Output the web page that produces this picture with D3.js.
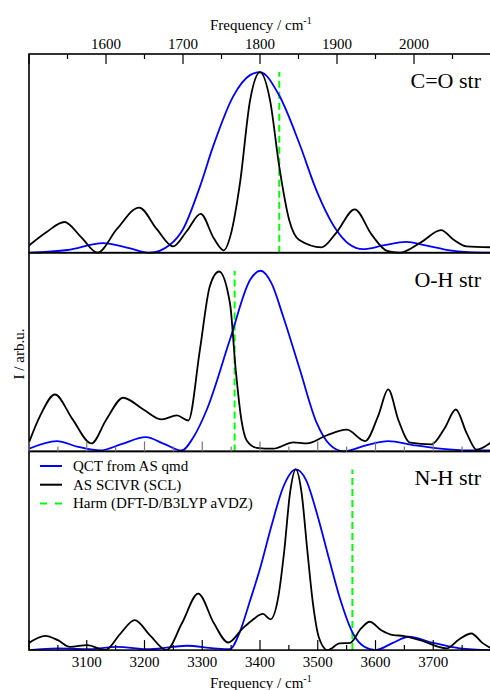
<!DOCTYPE html>
<html>
<head>
<meta charset="utf-8">
<script src="https://cdn.jsdelivr.net/npm/d3@7"></script>
<style>
  body { margin: 0; background: #fff; }
  svg { display: block; font-family: "Liberation Serif", "DejaVu Serif", serif; }
</style>
</head>
<body>
<div id="chart"></div>
<script>
// Spectra: [frequency / cm-1, intensity]
const coQCT = [[1500,0],[1550,0.015],[1596,0.053],[1630,0.025],[1657,0],[1683,0.044],[1700,0.13],
  [1722,0.366],[1739,0.587],[1765,0.864],[1787,0.983],[1800,1],[1825,0.87],[1851,0.606],[1873,0.348],
  [1899,0.127],[1915,0.05],[1934,0.02],[1960,0.04],[1990,0.06],[2015,0.04],[2042,0.016],[2070,0.003],[2100,0]];
const coSCIVR = [[1500,0.04],[1523,0.115],[1546,0.17],[1568,0.085],[1589,0],[1614,0.13],[1643,0.25],
  [1666,0.13],[1687,0.035],[1705,0.12],[1723,0.215],[1740,0.08],[1753,0.013],[1762,0.1],[1774,0.385],
  [1787,0.84],[1800,1],[1813,0.845],[1825,0.477],[1838,0.18],[1851,0.07],[1880,0.03],[1899,0.11],
  [1923,0.24],[1945,0.1],[1965,0.01],[1981,0],[2010,0.06],[2035,0.125],[2052,0.07],[2068,0.035],[2100,0.03]];

const ohQCT = [[3000,0.015],[3048,0.057],[3085,0.025],[3123,0.005],[3160,0.04],[3202,0.079],[3235,0.04],
  [3264,0.005],[3285,0.08],[3308,0.232],[3348,0.619],[3383,0.95],[3401,1],[3420,0.93],[3440,0.748],
  [3469,0.453],[3498,0.159],[3520,0.04],[3545,0],[3585,0.035],[3622,0.057],[3665,0.035],[3712,0.015],
  [3760,0.005],[3800,0.005]];
const ohSCIVR = [[3000,0.05],[3019,0.195],[3045,0.315],[3075,0.18],[3108,0.044],[3134,0.177],[3163,0.297],
  [3198,0.232],[3230,0.177],[3256,0.199],[3276,0.171],[3296,0.564],[3313,0.913],[3329,0.996],[3348,0.82],
  [3358,0.45],[3368,0.17],[3377,0.06],[3394,0.02],[3423,0.015],[3458,0.05],[3481,0.044],[3515,0.088],
  [3550,0.12],[3582,0.057],[3605,0.2],[3622,0.343],[3640,0.17],[3660,0.048],[3697,0.039],[3720,0.13],
  [3739,0.232],[3758,0.1],[3775,0.01],[3800,0.05]];

const nhQCT = [[3000,0],[3050,0.01],[3100,0.005],[3152,0.018],[3210,0.005],[3273,0.024],[3320,0.01],
  [3348,0.005],[3365,0.1],[3383,0.276],[3400,0.45],[3420,0.69],[3440,0.9],[3462,1],[3480,0.94],
  [3500,0.74],[3520,0.5],[3540,0.27],[3561,0.092],[3580,0.02],[3600,0],[3630,0.04],[3657,0.074],
  [3700,0.04],[3746,0.01],[3800,0]];
const nhSCIVR = [[3000,0.04],[3028,0.079],[3050,0.055],[3071,0.018],[3101,0.028],[3132,0],[3158,0.09],
  [3183,0.166],[3210,0.08],[3238,0],[3265,0.15],[3293,0.313],[3320,0.15],[3345,0.042],[3370,0.12],
  [3388,0.17],[3405,0.2],[3418,0.17],[3432,0.3],[3442,0.55],[3452,0.87],[3462,1],[3472,0.87],
  [3482,0.55],[3492,0.25],[3502,0.07],[3517,0],[3538,0.037],[3556,0.04],[3575,0.12],[3590,0.157],
  [3610,0.11],[3631,0.083],[3648,0.079],[3677,0.055],[3723,0.01],[3745,0.06],[3766,0.092],[3785,0.04],[3800,0.01]];

// harmonic frequencies (one stick per panel)
const harmFreq = [1825, 3356, 3560];
const harmHeight = [1, 1, 1];

const panelLabels = ["C=O str", "O-H str", "N-H str"];
const legendLabels = ["QCT from AS qmd", "AS SCIVR (SCL)", "Harm (DFT-D/B3LYP aVDZ)"];
const topTicks = [1600, 1700, 1800, 1900, 2000];
const bottomTicks = [3100, 3200, 3300, 3400, 3500, 3600, 3700];

const width = 490;
const height = 690;
const left = 29, right = 491;
const top0 = 54, panelH = 198.7;

const svg = d3.select("#chart").append("svg")
    .attr("width", width)
    .attr("height", height);

const xLow = d3.scaleLinear().domain([1500, 2100]).range([left, right]);
const xHigh = d3.scaleLinear().domain([3000, 3800]).range([left, right]);

const panels = [
  {x: xLow, qct: coQCT, scivr: coSCIVR},
  {x: xHigh, qct: ohQCT, scivr: ohSCIVR},
  {x: xHigh, qct: nhQCT, scivr: nhSCIVR}
];

svg.append("defs").append("clipPath").attr("id", "clip")
  .append("rect").attr("x", left).attr("y", top0)
  .attr("width", right - left).attr("height", panelH * 3);

panels.forEach((p, i) => {
  const y0 = top0 + i * panelH;
  const y = d3.scaleLinear().domain([0, 1.1]).range([y0 + panelH, y0]);
  const line = d3.line()
      .x(d => p.x(d[0]))
      .y(d => y(d[1]))
      .curve(d3.curveMonotoneX);

  const g = svg.append("g").attr("clip-path", "url(#clip)");

  g.append("line")
      .attr("x1", p.x(harmFreq[i])).attr("x2", p.x(harmFreq[i]))
      .attr("y1", y(0)).attr("y2", y(harmHeight[i]))
      .attr("stroke", "#00ff00").attr("stroke-width", 2)
      .attr("stroke-dasharray", "7,4");

  g.append("path").datum(p.qct)
      .attr("d", line).attr("fill", "none")
      .attr("stroke", "#0000ff").attr("stroke-width", 1.8);

  g.append("path").datum(p.scivr)
      .attr("d", line).attr("fill", "none")
      .attr("stroke", "#000").attr("stroke-width", 1.8);

  // panel label
  svg.append("text")
      .attr("x", 481).attr("y", y0 + 34)
      .attr("text-anchor", "end")
      .attr("font-size", 22)
      .text(panelLabels[i]);

  // panel frame
  svg.append("rect")
      .attr("x", left).attr("y", y0)
      .attr("width", right - left).attr("height", panelH)
      .attr("fill", "none").attr("stroke", "#000").attr("stroke-width", 1.6);
});

// ticks pointing into the plot
function drawTicks(scale, yLine, dir, color, minorFrom, minorTo) {
  const major = scale.ticks(10).filter(v => v % 100 === 0);
  const minor = d3.range(minorFrom, minorTo, 100);
  const g = svg.append("g").attr("stroke", color).attr("stroke-width", 1.2);
  major.forEach(v => g.append("line")
      .attr("x1", scale(v)).attr("x2", scale(v))
      .attr("y1", yLine).attr("y2", yLine + dir * 10));
  minor.forEach(v => g.append("line")
      .attr("x1", scale(v)).attr("x2", scale(v))
      .attr("y1", yLine).attr("y2", yLine + dir * 5));
}

drawTicks(xLow, top0, 1, "#000", 1550, 2100);
drawTicks(xHigh, top0 + 2 * panelH, -1, "#777", 3050, 3800);
drawTicks(xHigh, top0 + 3 * panelH, -1, "#000", 3050, 3800);

// tick labels
svg.append("g").selectAll("text").data(topTicks).join("text")
    .attr("x", d => xLow(d)).attr("y", 49)
    .attr("text-anchor", "middle").attr("font-size", 15)
    .text(d => d);

svg.append("g").selectAll("text").data(bottomTicks).join("text")
    .attr("x", d => xHigh(d)).attr("y", 667)
    .attr("text-anchor", "middle").attr("font-size", 15)
    .text(d => d);

// axis titles
function axisTitle(yPos) {
  const t = svg.append("text")
      .attr("x", 210).attr("y", yPos)
      .attr("font-size", 15);
  t.append("tspan").text("Frequency / cm");
  t.append("tspan").attr("dy", -6).attr("font-size", 10).text("-1");
}
axisTitle(30);
axisTitle(688);

svg.append("text")
    .attr("transform", "translate(24,354) rotate(-90)")
    .attr("text-anchor", "middle").attr("font-size", 15)
    .text("I / arb.u.");

// legend
const legendStyles = [
  {color: "#0000ff", dash: null},
  {color: "#000", dash: null},
  {color: "#00ff00", dash: "7,8"}
];
legendLabels.forEach((label, i) => {
  const ly = 466 + i * 18.7;
  svg.append("line")
      .attr("x1", 40).attr("x2", 62)
      .attr("y1", ly).attr("y2", ly)
      .attr("stroke", legendStyles[i].color)
      .attr("stroke-width", 2)
      .attr("stroke-dasharray", legendStyles[i].dash);
  svg.append("text")
      .attr("x", 73).attr("y", ly + 5)
      .attr("font-size", 15)
      .text(label);
});
</script>
</body>
</html>
